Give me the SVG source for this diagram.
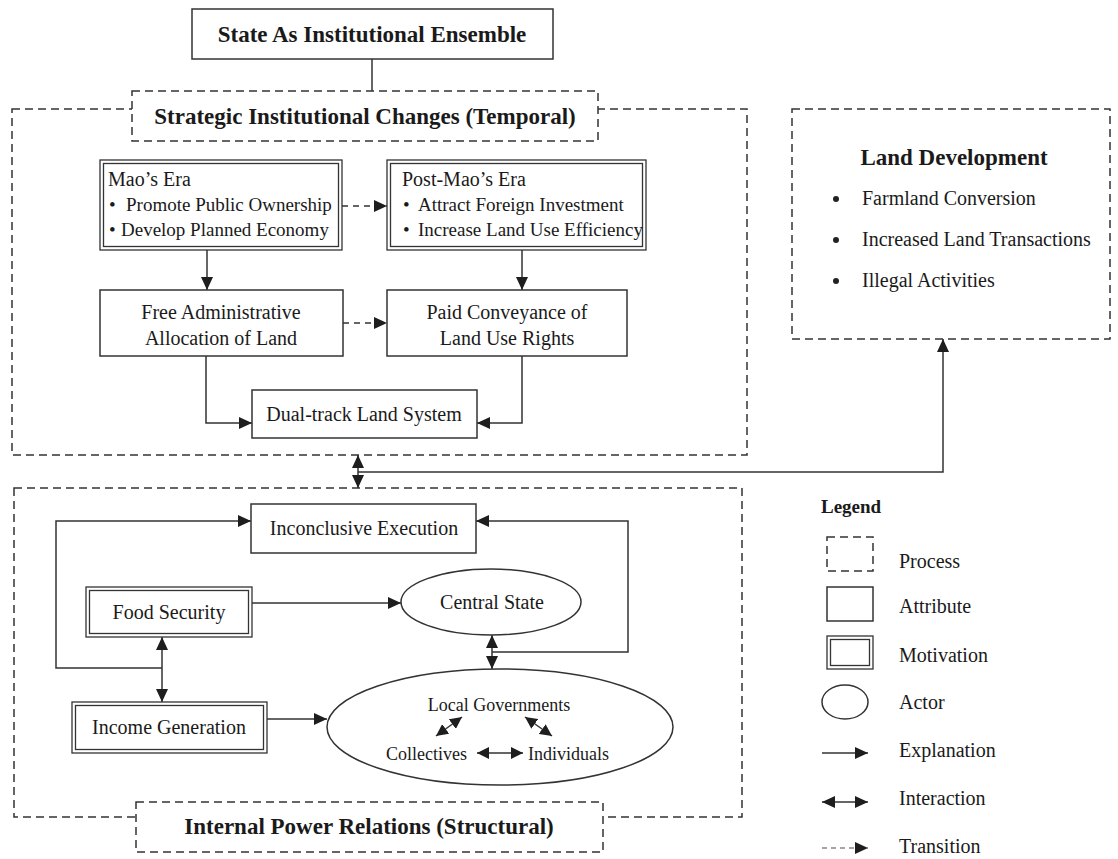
<svg xmlns="http://www.w3.org/2000/svg" width="1118" height="859" viewBox="0 0 1118 859">
  <defs>
    <style>
      .t { font-family: "Liberation Serif", "Times New Roman", serif; fill: #1a1a1a; font-size: 20px; }
      .b { font-weight: bold; font-size: 23px; }
      .c { text-anchor: middle; }
      .s18 { font-size: 18px; }
      .s19 { font-size: 19px; }
      .box { fill: #fff; stroke: #333; stroke-width: 1.5; }
      .dbl { fill: none; stroke: #333; stroke-width: 1.3; }
      .proc { fill: none; stroke: #333; stroke-width: 1.5; stroke-dasharray: 8 5; }
      .tag { fill: #fff; stroke: #333; stroke-width: 1.5; stroke-dasharray: 8 5; }
      .ln { fill: none; stroke: #333; stroke-width: 1.5; }
      .dash { stroke-dasharray: 6 5; }
      .ex { marker-end: url(#head); }
      .ia { marker-start: url(#head); marker-end: url(#head); }
      .sm { marker-start: url(#headS); marker-end: url(#headS); }
    </style>
    <!-- filled triangular arrowhead, reused at both ends for interactions -->
    <marker id="head" markerUnits="userSpaceOnUse" markerWidth="14" markerHeight="12" refX="13" refY="6" orient="auto-start-reverse" viewBox="0 0 14 12">
      <path d="M0,0 L13,6 L0,12 z" fill="#1e1e1e"/>
    </marker>
    <marker id="headS" markerUnits="userSpaceOnUse" markerWidth="13" markerHeight="12" refX="12" refY="6" orient="auto-start-reverse" viewBox="0 0 13 12">
      <path d="M0,0 L12,6 L0,12 z" fill="#1e1e1e"/>
    </marker>
  </defs>
  <rect width="1118" height="859" fill="#fff"/>

  <!-- process frames -->
  <g id="temporal-frame">
    <rect class="proc" x="12" y="109" width="735" height="346"/>
  </g>
  <g id="structural-frame">
    <rect class="proc" x="14" y="488" width="728" height="329"/>
  </g>

  <!-- connectors -->
  <g id="connectors">
    <line class="ln" x1="372" y1="59" x2="372" y2="91"/>
    <!-- transitions -->
    <line class="ln dash ex" x1="342" y1="206" x2="387" y2="206"/>
    <line class="ln dash ex" x1="343" y1="323" x2="387" y2="323"/>
    <!-- explanations -->
    <line class="ln ex" x1="207" y1="250" x2="207" y2="290"/>
    <line class="ln ex" x1="522" y1="250" x2="522" y2="290"/>
    <polyline class="ln ex" points="206,356 206,423 252,423"/>
    <polyline class="ln ex" points="522,356 522,423 477,423"/>
    <!-- between the two processes and on to land development -->
    <line class="ln ia" x1="358" y1="455" x2="358" y2="488"/>
    <polyline class="ln ex" points="358,472 943,472 943,339"/>
    <!-- structural block -->
    <polyline class="ln ex" points="162,668 56,668 56,521 251,521"/>
    <polyline class="ln ex" points="492,652 628,652 628,521 476,521"/>
    <line class="ln ia" x1="162" y1="637" x2="162" y2="702"/>
    <line class="ln ia" x1="492" y1="635" x2="492" y2="669"/>
    <line class="ln ex" x1="252" y1="603" x2="401" y2="603"/>
    <line class="ln ex" x1="267" y1="719" x2="327" y2="719"/>
    <line class="ln sm" x1="436" y1="736" x2="462" y2="717"/>
    <line class="ln sm" x1="525" y1="717" x2="552" y2="736"/>
    <line class="ln sm" x1="477" y1="753" x2="523" y2="753"/>
  </g>

  <g id="state-ensemble">
    <rect class="box" x="192" y="9" width="361" height="50"/>
    <text class="t b c" x="372" y="42">State As Institutional Ensemble</text>
  </g>

  <g id="temporal-label">
    <rect class="tag" x="132" y="91" width="466" height="50"/>
    <text class="t b c" x="365" y="124">Strategic Institutional Changes (Temporal)</text>
  </g>

  <g id="mao-era">
    <rect class="dbl" x="100" y="160" width="242" height="90"/>
    <rect class="dbl" x="103.5" y="163.5" width="235" height="83"/>
    <text class="t" x="108" y="186">Mao’s Era</text>
    <text class="t s19" x="109" y="211">•</text>
    <text class="t s19" x="126" y="211">Promote Public Ownership</text>
    <text class="t s19" x="109" y="236">•</text>
    <text class="t s19" x="121" y="236">Develop Planned Economy</text>
  </g>

  <g id="post-mao-era">
    <rect class="dbl" x="387" y="160" width="259" height="90"/>
    <rect class="dbl" x="390.5" y="163.5" width="252" height="83"/>
    <text class="t" x="402" y="186">Post-Mao’s Era</text>
    <text class="t s19" x="403" y="211">•</text>
    <text class="t s19" x="418" y="211">Attract Foreign Investment</text>
    <text class="t s19" x="403" y="236">•</text>
    <text class="t s19" x="418" y="236">Increase Land Use Efficiency</text>
  </g>

  <g id="free-allocation">
    <rect class="box" x="100" y="290" width="243" height="66"/>
    <text class="t c" x="221" y="319">Free Administrative</text>
    <text class="t c" x="221" y="345">Allocation of Land</text>
  </g>

  <g id="paid-conveyance">
    <rect class="box" x="387" y="290" width="240" height="66"/>
    <text class="t c" x="507" y="319">Paid Conveyance of</text>
    <text class="t c" x="507" y="345">Land Use Rights</text>
  </g>

  <g id="dual-track">
    <rect class="box" x="252" y="390" width="225" height="48"/>
    <text class="t c" x="364" y="421">Dual-track Land System</text>
  </g>

  <g id="land-development">
    <rect class="proc" x="792" y="109" width="318" height="230"/>
    <text class="t b c" x="954" y="165">Land Development</text>
    <circle cx="836" cy="199" r="3" fill="#222"/>
    <text class="t" x="862" y="205">Farmland Conversion</text>
    <circle cx="836" cy="240" r="3" fill="#222"/>
    <text class="t" x="862" y="246">Increased Land Transactions</text>
    <circle cx="836" cy="281" r="3" fill="#222"/>
    <text class="t" x="862" y="287">Illegal Activities</text>
  </g>

  <g id="inconclusive-execution">
    <rect class="box" x="251" y="504" width="225" height="49"/>
    <text class="t c" x="364" y="535">Inconclusive Execution</text>
  </g>

  <g id="food-security">
    <rect class="dbl" x="86" y="587" width="166" height="50"/>
    <rect class="dbl" x="89.5" y="590.5" width="159" height="43"/>
    <text class="t c" x="169" y="619">Food Security</text>
  </g>

  <g id="central-state">
    <ellipse class="box" cx="491" cy="602" rx="90" ry="33"/>
    <text class="t c" x="492" y="609">Central State</text>
  </g>

  <g id="income-generation">
    <rect class="dbl" x="72" y="702" width="195" height="51"/>
    <rect class="dbl" x="75.5" y="705.5" width="188" height="44"/>
    <text class="t c" x="169" y="734">Income Generation</text>
  </g>

  <g id="local-actors">
    <ellipse class="ln" cx="500" cy="727" rx="173" ry="58"/>
    <text class="t s18 c" x="499" y="711">Local Governments</text>
    <text class="t s18" x="386" y="760">Collectives</text>
    <text class="t s18" x="528" y="760">Individuals</text>
  </g>

  <g id="structural-label">
    <rect class="tag" x="136" y="802" width="467" height="50"/>
    <text class="t b c" x="369" y="834">Internal Power Relations (Structural)</text>
  </g>

  <g id="legend">
    <text class="t" x="821" y="513" style="font-weight:bold;font-size:19px">Legend</text>
    <rect class="proc" x="827" y="537" width="46" height="34"/>
    <text class="t" x="899" y="568">Process</text>
    <rect class="box" x="827" y="587" width="46" height="34"/>
    <text class="t" x="899" y="613">Attribute</text>
    <rect class="dbl" x="827" y="636" width="46" height="33"/>
    <rect class="dbl" x="830.5" y="639.5" width="39" height="26"/>
    <text class="t" x="899" y="662">Motivation</text>
    <ellipse class="ln" cx="845" cy="702" rx="23" ry="17"/>
    <text class="t" x="899" y="709">Actor</text>
    <line class="ln ex" x1="822" y1="753" x2="868" y2="753"/>
    <text class="t" x="899" y="757">Explanation</text>
    <line class="ln ia" x1="822" y1="802" x2="868" y2="802"/>
    <text class="t" x="899" y="805">Interaction</text>
    <line class="ln ex" x1="822" y1="848" x2="868" y2="848" style="stroke:#888;stroke-dasharray:5 4"/>
    <text class="t" x="899" y="853">Transition</text>
  </g>
</svg>
